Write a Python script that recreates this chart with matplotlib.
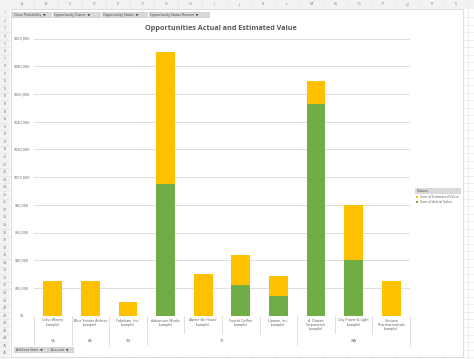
import numpy as np
import matplotlib
matplotlib.use("Agg")
import matplotlib.pyplot as plt
import matplotlib.transforms as mtransforms
from matplotlib.patches import Rectangle
from matplotlib.lines import Line2D

plt.rcParams['font.family'] = ['Open Sans', 'DejaVu Sans']

# data
accounts = ["Coho Winery\n(sample)", "Blue Yonder Airlines\n(sample)", "Fabrikam, Inc.\n(sample)",
            "Adventure Works\n(sample)", "Alpine Ski House\n(sample)", "Fourth Coffee\n(sample)",
            "Litware, Inc.\n(sample)", "A. Datum\nCorporation\n(sample)",
            "City Power & Light\n(sample)", "Contoso\nPharmaceuticals\n(sample)"]
states = ["CA", "KA", "TN", "TX", "TX", "TX", "TX", "WA", "WA", "WA"]
actual = [0, 0, 0, 95000, 0, 22000, 14000, 153000, 40000, 0]
estimated = [25000, 25000, 10000, 95000, 30000, 22000, 15000, 16000, 40000, 25000]
yticks = np.arange(0, 200001, 20000)
title = "Opportunities Actual and Estimated Value"
series_names = ["Sum of Estimated Value", "Sum of Actual Value"]
filters_top = ["Close Probability", "Opportunity Owner", "Opportunity Status", "Opportunity Status Reason"]
filters_bottom = ["Address State", "Account"]
col_letters = list("ABCDEFGHIJKLMNOPQRS")
n_rows = 46

YELLOW = "#FFC000"
GREEN = "#70AD47"
GRID = "#D9D9D9"
TXT = "#595959"

W, H = 474, 359
fig = plt.figure(figsize=(W / 100, H / 100), dpi=100)


def fx(x):
    return x / W


def fy(y):
    return 1 - y / H


# --- spreadsheet behind the chart ---
fig.patches.append(Rectangle((0, fy(8.5)), 1, 8.5 / H, transform=fig.transFigure,
                             facecolor="#F2F2F2", edgecolor="none", zorder=0))
fig.patches.append(Rectangle((0, 0), fx(10), 1, transform=fig.transFigure,
                             facecolor="#F2F2F2", edgecolor="none", zorder=0))
for i, c in enumerate(col_letters):
    cx = 21.7 + i * 24.1
    fig.text(fx(cx), fy(4.3), c, ha="center", va="center", fontsize=2.6, color="#777777")
    fig.lines.append(Line2D([fx(cx + 12.05)] * 2, [0, 1], transform=fig.transFigure,
                            color="#E3E3E3", lw=0.4, zorder=0.5))
for r in range(1, n_rows + 1):
    ry = 13.3 + (r - 1) * 7.56
    fig.text(fx(5), fy(ry), str(r), ha="center", va="center", fontsize=2.6, color="#777777")
    fig.lines.append(Line2D([0, 1], [fy(ry + 3.78)] * 2, transform=fig.transFigure,
                            color="#E3E3E3", lw=0.4, zorder=0.5))

# chart area
fig.patches.append(Rectangle((fx(11), fy(357)), fx(463) - fx(11), fy(9) - fy(357),
                             transform=fig.transFigure, facecolor="white",
                             edgecolor="#D0D0D0", lw=0.5, zorder=1))

# filter buttons
def button(x0, x1, y0, y1, label):
    fig.patches.append(Rectangle((fx(x0), fy(y1)), fx(x1) - fx(x0), fy(y0) - fy(y1),
                                 transform=fig.transFigure, facecolor="#D9D9D9",
                                 edgecolor="#BFBFBF", lw=0.4, zorder=2))
    fig.text(fx(x0 + 1.5), fy((y0 + y1) / 2), label + "  \u25BC", ha="left", va="center",
             fontsize=2.5, color="#404040", zorder=3)


top_x = [(12.3, 50.5), (53, 100), (101.7, 146.7), (149, 209.3)]
for (a, b), lab in zip(top_x, filters_top):
    button(a, b, 12.3, 16.9, lab)
bot_x = [(14, 48.3), (49.3, 73.3)]
for (a, b), lab in zip(bot_x, filters_bottom):
    button(a, b, 347, 351.8, lab)

# --- the plot ---
ax = fig.add_axes([fx(34), fy(315.7), fx(410) - fx(34), fy(38.5) - fy(315.7)], zorder=3)
ax.patch.set_alpha(0)
x = np.arange(len(accounts))
ax.bar(x, actual, width=0.5, color=GREEN, zorder=3)
ax.bar(x, estimated, width=0.5, bottom=actual, color=YELLOW, zorder=3)
ax.set_xlim(-0.5, len(accounts) - 0.5)
ax.set_ylim(0, 200000)
ax.set_yticks(yticks)
ax.grid(axis="y", color=GRID, lw=0.6, zorder=0)
ax.set_axisbelow(True)
for s in ax.spines.values():
    s.set_visible(False)
ax.tick_params(left=False, bottom=False, labelleft=False, labelbottom=False)

# y labels
ytr = mtransforms.blended_transform_factory(fig.transFigure, ax.transData)
for v in yticks:
    ax.text(fx(22), v, "${:,.0f}".format(v), transform=ytr, ha="center", va="center",
            fontsize=2.7, color=TXT, clip_on=False)

# multi-level category axis
xtr = mtransforms.blended_transform_factory(ax.transData, fig.transFigure)
for i, lab in enumerate(accounts):
    ax.text(i, fy(318.5), lab, transform=xtr, ha="center", va="top", fontsize=2.6,
            color=TXT, linespacing=1.15, clip_on=False)

groups = []
for i, s in enumerate(states):
    if groups and groups[-1][0] == s:
        groups[-1][2] = i
    else:
        groups.append([s, i, i])
group_edges = set()
for s, a, b in groups:
    ax.text((a + b) / 2, fy(341.5), s, transform=xtr, ha="center", va="center",
            fontsize=2.7, color=TXT, clip_on=False)
    group_edges.add(a - 0.5)
    group_edges.add(b + 0.5)
for e in np.arange(-0.5, len(accounts), 1.0):
    bottom = 345 if e in group_edges else 333
    ax.add_line(Line2D([e, e], [fy(315.7), fy(bottom)], transform=xtr, color=GRID,
                       lw=0.6, clip_on=False))

# title
fig.text(fx(221), fy(28.3), title, ha="center", va="center", fontsize=5.2,
         fontweight="bold", color=TXT)

# legend
fig.patches.append(Rectangle((fx(415), fy(193.5)), fx(461) - fx(415), fy(188) - fy(193.5),
                             transform=fig.transFigure, facecolor="#D9D9D9",
                             edgecolor="none", zorder=2))
fig.text(fx(417), fy(190.8), "Values", ha="left", va="center", fontsize=2.5,
         color="#404040", zorder=3)
for k, (name, col) in enumerate(zip(series_names, [YELLOW, GREEN])):
    yy = 196.8 + k * 5.6
    fig.patches.append(Rectangle((fx(416), fy(yy + 1)), 2 / W, 2 / H, transform=fig.transFigure,
                                 facecolor=col, edgecolor="none", zorder=3))
    fig.text(fx(419.5), fy(yy), name, ha="left", va="center", fontsize=2.5,
             color=TXT, zorder=3)

fig.savefig("out.png", dpi=100)
